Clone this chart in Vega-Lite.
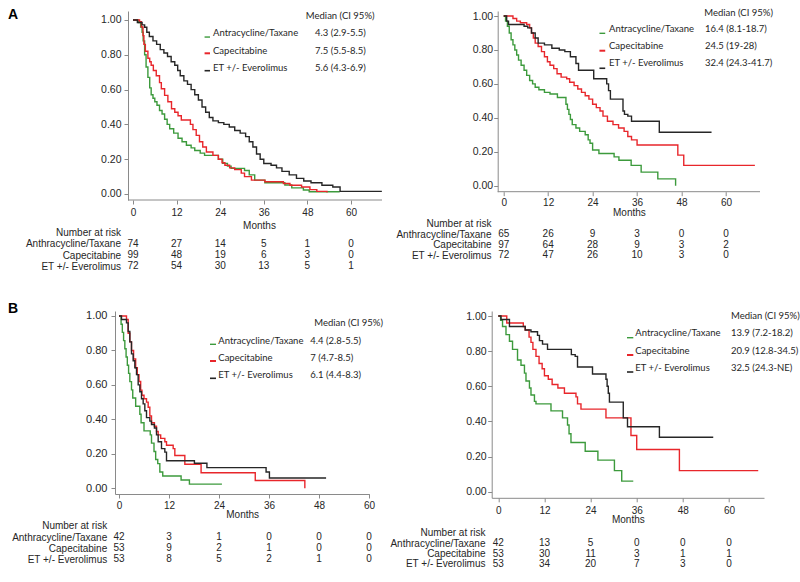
{
  "$schema": "https://vega.github.io/schema/vega-lite/v6.json",
  "background": "white",
  "padding": {"left": 7, "top": 8, "right": 2, "bottom": 2},
  "config": {
    "view": {"stroke": null},
    "axis": {"grid": false, "domainColor": "#8a8a8a", "tickColor": "#8a8a8a", "tickSize": 4, "labelFont": "Liberation Sans", "labelFontSize": 10, "labelColor": "#262626", "titleFont": "Liberation Sans", "titleFontSize": 10, "titleFontWeight": "normal", "titleColor": "#262626", "labelOverlap": false, "labelFlush": false},
    "axisY": {"labelFontSize": 10.5, "tickCount": 10},
    "line": {"strokeWidth": 1.4},
    "text": {"font": "Lato", "fontSize": 9.5, "color": "#262626"}
  },
  "datasets": {
    "km": [
      {"panel":"AL","group":"AT","month":0,"surv":1},{"panel":"AL","group":"AT","month":1.5,"surv":0.985},{"panel":"AL","group":"AT","month":2.1,"surv":0.96},{"panel":"AL","group":"AT","month":2.5,"surv":0.93},{"panel":"AL","group":"AT","month":2.8,"surv":0.88},{"panel":"AL","group":"AT","month":3.2,"surv":0.8},{"panel":"AL","group":"AT","month":3.6,"surv":0.73},{"panel":"AL","group":"AT","month":4.1,"surv":0.67},{"panel":"AL","group":"AT","month":4.6,"surv":0.61},{"panel":"AL","group":"AT","month":5.0,"surv":0.57},{"panel":"AL","group":"AT","month":5.5,"surv":0.55},{"panel":"AL","group":"AT","month":6.0,"surv":0.53},{"panel":"AL","group":"AT","month":6.6,"surv":0.51},{"panel":"AL","group":"AT","month":7.3,"surv":0.48},{"panel":"AL","group":"AT","month":8.0,"surv":0.46},{"panel":"AL","group":"AT","month":8.7,"surv":0.43},{"panel":"AL","group":"AT","month":9.4,"surv":0.4},{"panel":"AL","group":"AT","month":10.1,"surv":0.375},{"panel":"AL","group":"AT","month":11.2,"surv":0.35},{"panel":"AL","group":"AT","month":12.4,"surv":0.32},{"panel":"AL","group":"AT","month":13.5,"surv":0.3},{"panel":"AL","group":"AT","month":14.7,"surv":0.28},{"panel":"AL","group":"AT","month":16,"surv":0.265},{"panel":"AL","group":"AT","month":17,"surv":0.25},{"panel":"AL","group":"AT","month":18.5,"surv":0.235},{"panel":"AL","group":"AT","month":19.7,"surv":0.222},{"panel":"AL","group":"AT","month":23.5,"surv":0.2},{"panel":"AL","group":"AT","month":24.7,"surv":0.176},{"panel":"AL","group":"AT","month":26,"surv":0.16},{"panel":"AL","group":"AT","month":27,"surv":0.147},{"panel":"AL","group":"AT","month":30.7,"surv":0.135},{"panel":"AL","group":"AT","month":32,"surv":0.11},{"panel":"AL","group":"AT","month":33.5,"surv":0.08},{"panel":"AL","group":"AT","month":36.3,"surv":0.065},{"panel":"AL","group":"AT","month":41.8,"surv":0.052},{"panel":"AL","group":"AT","month":43.7,"surv":0.035},{"panel":"AL","group":"AT","month":46.9,"surv":0.023},{"panel":"AL","group":"AT","month":48.5,"surv":0.013},{"panel":"AL","group":"AT","month":56.9,"surv":0.013},
      {"panel":"AL","group":"CAP","month":0,"surv":1},{"panel":"AL","group":"CAP","month":1.8,"surv":0.99},{"panel":"AL","group":"CAP","month":2.3,"surv":0.96},{"panel":"AL","group":"CAP","month":2.75,"surv":0.91},{"panel":"AL","group":"CAP","month":3.0,"surv":0.86},{"panel":"AL","group":"CAP","month":3.4,"surv":0.82},{"panel":"AL","group":"CAP","month":4.1,"surv":0.78},{"panel":"AL","group":"CAP","month":4.6,"surv":0.76},{"panel":"AL","group":"CAP","month":5.0,"surv":0.74},{"panel":"AL","group":"CAP","month":5.6,"surv":0.71},{"panel":"AL","group":"CAP","month":6.4,"surv":0.68},{"panel":"AL","group":"CAP","month":7.3,"surv":0.64},{"panel":"AL","group":"CAP","month":7.8,"surv":0.605},{"panel":"AL","group":"CAP","month":8.7,"surv":0.567},{"panel":"AL","group":"CAP","month":9.6,"surv":0.53},{"panel":"AL","group":"CAP","month":10.6,"surv":0.49},{"panel":"AL","group":"CAP","month":11.5,"surv":0.47},{"panel":"AL","group":"CAP","month":12.4,"surv":0.45},{"panel":"AL","group":"CAP","month":13.3,"surv":0.425},{"panel":"AL","group":"CAP","month":15.8,"surv":0.4},{"panel":"AL","group":"CAP","month":16.5,"surv":0.37},{"panel":"AL","group":"CAP","month":17.4,"surv":0.337},{"panel":"AL","group":"CAP","month":18.3,"surv":0.3},{"panel":"AL","group":"CAP","month":19.2,"surv":0.27},{"panel":"AL","group":"CAP","month":20.2,"surv":0.241},{"panel":"AL","group":"CAP","month":22,"surv":0.222},{"panel":"AL","group":"CAP","month":23.5,"surv":0.2},{"panel":"AL","group":"CAP","month":24.5,"surv":0.18},{"panel":"AL","group":"CAP","month":25.3,"surv":0.165},{"panel":"AL","group":"CAP","month":26.6,"surv":0.15},{"panel":"AL","group":"CAP","month":28,"surv":0.14},{"panel":"AL","group":"CAP","month":29.8,"surv":0.12},{"panel":"AL","group":"CAP","month":30.7,"surv":0.1},{"panel":"AL","group":"CAP","month":32.6,"surv":0.08},{"panel":"AL","group":"CAP","month":36.3,"surv":0.07},{"panel":"AL","group":"CAP","month":41.4,"surv":0.06},{"panel":"AL","group":"CAP","month":43.2,"surv":0.05},{"panel":"AL","group":"CAP","month":46.4,"surv":0.04},{"panel":"AL","group":"CAP","month":48.7,"surv":0.025},{"panel":"AL","group":"CAP","month":50.6,"surv":0.015},{"panel":"AL","group":"CAP","month":53.4,"surv":0.008},
      {"panel":"AL","group":"ET","month":0,"surv":1},{"panel":"AL","group":"ET","month":1.2,"surv":0.986},{"panel":"AL","group":"ET","month":2.5,"surv":0.972},{"panel":"AL","group":"ET","month":3.2,"surv":0.958},{"panel":"AL","group":"ET","month":3.8,"surv":0.93},{"panel":"AL","group":"ET","month":4.5,"surv":0.905},{"panel":"AL","group":"ET","month":5.5,"surv":0.88},{"panel":"AL","group":"ET","month":6.5,"surv":0.86},{"panel":"AL","group":"ET","month":7.5,"surv":0.83},{"panel":"AL","group":"ET","month":8.5,"surv":0.81},{"panel":"AL","group":"ET","month":9.5,"surv":0.79},{"panel":"AL","group":"ET","month":10.5,"surv":0.76},{"panel":"AL","group":"ET","month":11.5,"surv":0.74},{"panel":"AL","group":"ET","month":12.3,"surv":0.71},{"panel":"AL","group":"ET","month":13,"surv":0.68},{"panel":"AL","group":"ET","month":14,"surv":0.65},{"panel":"AL","group":"ET","month":15,"surv":0.63},{"panel":"AL","group":"ET","month":16,"surv":0.6},{"panel":"AL","group":"ET","month":17,"surv":0.57},{"panel":"AL","group":"ET","month":18,"surv":0.54},{"panel":"AL","group":"ET","month":19,"surv":0.5},{"panel":"AL","group":"ET","month":20,"surv":0.47},{"panel":"AL","group":"ET","month":21,"surv":0.44},{"panel":"AL","group":"ET","month":22,"surv":0.42},{"panel":"AL","group":"ET","month":23.5,"surv":0.41},{"panel":"AL","group":"ET","month":25,"surv":0.4},{"panel":"AL","group":"ET","month":26.5,"surv":0.385},{"panel":"AL","group":"ET","month":28,"surv":0.365},{"panel":"AL","group":"ET","month":29.5,"surv":0.35},{"panel":"AL","group":"ET","month":31,"surv":0.33},{"panel":"AL","group":"ET","month":32,"surv":0.3},{"panel":"AL","group":"ET","month":33,"surv":0.27},{"panel":"AL","group":"ET","month":34,"surv":0.23},{"panel":"AL","group":"ET","month":35,"surv":0.2},{"panel":"AL","group":"ET","month":36,"surv":0.175},{"panel":"AL","group":"ET","month":38,"surv":0.165},{"panel":"AL","group":"ET","month":39.5,"surv":0.15},{"panel":"AL","group":"ET","month":41,"surv":0.13},{"panel":"AL","group":"ET","month":43,"surv":0.11},{"panel":"AL","group":"ET","month":45,"surv":0.09},{"panel":"AL","group":"ET","month":47,"surv":0.075},{"panel":"AL","group":"ET","month":49,"surv":0.065},{"panel":"AL","group":"ET","month":52,"surv":0.05},{"panel":"AL","group":"ET","month":55,"surv":0.04},{"panel":"AL","group":"ET","month":57,"surv":0.015},{"panel":"AL","group":"ET","month":68.5,"surv":0.015},

      {"panel":"AR","group":"AT","month":0,"surv":1},{"panel":"AR","group":"AT","month":0.5,"surv":0.97},{"panel":"AR","group":"AT","month":1.0,"surv":0.94},{"panel":"AR","group":"AT","month":1.5,"surv":0.9},{"panel":"AR","group":"AT","month":2.0,"surv":0.86},{"panel":"AR","group":"AT","month":2.5,"surv":0.83},{"panel":"AR","group":"AT","month":3.0,"surv":0.8},{"panel":"AR","group":"AT","month":3.5,"surv":0.77},{"panel":"AR","group":"AT","month":4.0,"surv":0.74},{"panel":"AR","group":"AT","month":4.7,"surv":0.71},{"panel":"AR","group":"AT","month":5.5,"surv":0.68},{"panel":"AR","group":"AT","month":6.2,"surv":0.65},{"panel":"AR","group":"AT","month":7.0,"surv":0.62},{"panel":"AR","group":"AT","month":7.8,"surv":0.6},{"panel":"AR","group":"AT","month":8.5,"surv":0.58},{"panel":"AR","group":"AT","month":9.5,"surv":0.565},{"panel":"AR","group":"AT","month":11,"surv":0.55},{"panel":"AR","group":"AT","month":12.5,"surv":0.54},{"panel":"AR","group":"AT","month":14.5,"surv":0.52},{"panel":"AR","group":"AT","month":16.8,"surv":0.48},{"panel":"AR","group":"AT","month":17.2,"surv":0.45},{"panel":"AR","group":"AT","month":17.6,"surv":0.42},{"panel":"AR","group":"AT","month":18,"surv":0.39},{"panel":"AR","group":"AT","month":18.5,"surv":0.36},{"panel":"AR","group":"AT","month":19.5,"surv":0.34},{"panel":"AR","group":"AT","month":20.5,"surv":0.32},{"panel":"AR","group":"AT","month":22,"surv":0.3},{"panel":"AR","group":"AT","month":22.8,"surv":0.27},{"panel":"AR","group":"AT","month":23.3,"surv":0.25},{"panel":"AR","group":"AT","month":24,"surv":0.21},{"panel":"AR","group":"AT","month":25.7,"surv":0.19},{"panel":"AR","group":"AT","month":29.8,"surv":0.17},{"panel":"AR","group":"AT","month":31.1,"surv":0.15},{"panel":"AR","group":"AT","month":34.4,"surv":0.12},{"panel":"AR","group":"AT","month":37.1,"surv":0.08},{"panel":"AR","group":"AT","month":41.6,"surv":0.04},{"panel":"AR","group":"AT","month":46.4,"surv":0.0},
      {"panel":"AR","group":"CAP","month":0,"surv":1},{"panel":"AR","group":"CAP","month":2.5,"surv":0.985},{"panel":"AR","group":"CAP","month":3.5,"surv":0.97},{"panel":"AR","group":"CAP","month":4.5,"surv":0.96},{"panel":"AR","group":"CAP","month":6.2,"surv":0.95},{"panel":"AR","group":"CAP","month":7,"surv":0.93},{"panel":"AR","group":"CAP","month":7.5,"surv":0.9},{"panel":"AR","group":"CAP","month":8,"surv":0.87},{"panel":"AR","group":"CAP","month":8.5,"surv":0.84},{"panel":"AR","group":"CAP","month":9.3,"surv":0.82},{"panel":"AR","group":"CAP","month":10.2,"surv":0.79},{"panel":"AR","group":"CAP","month":11,"surv":0.76},{"panel":"AR","group":"CAP","month":11.8,"surv":0.73},{"panel":"AR","group":"CAP","month":12.5,"surv":0.71},{"panel":"AR","group":"CAP","month":13.5,"surv":0.69},{"panel":"AR","group":"CAP","month":14.4,"surv":0.66},{"panel":"AR","group":"CAP","month":15.5,"surv":0.64},{"panel":"AR","group":"CAP","month":17,"surv":0.63},{"panel":"AR","group":"CAP","month":17.8,"surv":0.61},{"panel":"AR","group":"CAP","month":19,"surv":0.59},{"panel":"AR","group":"CAP","month":20,"surv":0.57},{"panel":"AR","group":"CAP","month":21,"surv":0.55},{"panel":"AR","group":"CAP","month":22,"surv":0.53},{"panel":"AR","group":"CAP","month":23,"surv":0.51},{"panel":"AR","group":"CAP","month":24,"surv":0.48},{"panel":"AR","group":"CAP","month":25,"surv":0.46},{"panel":"AR","group":"CAP","month":26,"surv":0.44},{"panel":"AR","group":"CAP","month":26.8,"surv":0.41},{"panel":"AR","group":"CAP","month":28,"surv":0.38},{"panel":"AR","group":"CAP","month":29.5,"surv":0.36},{"panel":"AR","group":"CAP","month":31,"surv":0.34},{"panel":"AR","group":"CAP","month":32.5,"surv":0.32},{"panel":"AR","group":"CAP","month":33.5,"surv":0.29},{"panel":"AR","group":"CAP","month":34.5,"surv":0.27},{"panel":"AR","group":"CAP","month":36,"surv":0.24},{"panel":"AR","group":"CAP","month":47,"surv":0.18},{"panel":"AR","group":"CAP","month":48.6,"surv":0.12},{"panel":"AR","group":"CAP","month":67.8,"surv":0.12},
      {"panel":"AR","group":"ET","month":0,"surv":1},{"panel":"AR","group":"ET","month":0.8,"surv":0.97},{"panel":"AR","group":"ET","month":1.3,"surv":0.95},{"panel":"AR","group":"ET","month":5.5,"surv":0.94},{"panel":"AR","group":"ET","month":6.5,"surv":0.93},{"panel":"AR","group":"ET","month":7.5,"surv":0.9},{"panel":"AR","group":"ET","month":8.5,"surv":0.87},{"panel":"AR","group":"ET","month":9.3,"surv":0.84},{"panel":"AR","group":"ET","month":11,"surv":0.83},{"panel":"AR","group":"ET","month":13,"surv":0.81},{"panel":"AR","group":"ET","month":15,"surv":0.8},{"panel":"AR","group":"ET","month":16.5,"surv":0.79},{"panel":"AR","group":"ET","month":18,"surv":0.76},{"panel":"AR","group":"ET","month":19.5,"surv":0.72},{"panel":"AR","group":"ET","month":20.2,"surv":0.68},{"panel":"AR","group":"ET","month":24.3,"surv":0.63},{"panel":"AR","group":"ET","month":27.8,"surv":0.6},{"panel":"AR","group":"ET","month":28.3,"surv":0.56},{"panel":"AR","group":"ET","month":28.8,"surv":0.51},{"panel":"AR","group":"ET","month":32.2,"surv":0.44},{"panel":"AR","group":"ET","month":32.6,"surv":0.42},{"panel":"AR","group":"ET","month":33.5,"surv":0.41},{"panel":"AR","group":"ET","month":34.5,"surv":0.38},{"panel":"AR","group":"ET","month":42,"surv":0.315},{"panel":"AR","group":"ET","month":56.1,"surv":0.315},

      {"panel":"BL","group":"AT","month":0,"surv":1},{"panel":"BL","group":"AT","month":0.5,"surv":0.952},{"panel":"BL","group":"AT","month":0.8,"surv":0.905},{"panel":"BL","group":"AT","month":1.1,"surv":0.857},{"panel":"BL","group":"AT","month":1.4,"surv":0.81},{"panel":"BL","group":"AT","month":1.7,"surv":0.762},{"panel":"BL","group":"AT","month":2.0,"surv":0.714},{"panel":"BL","group":"AT","month":2.3,"surv":0.667},{"panel":"BL","group":"AT","month":2.6,"surv":0.619},{"panel":"BL","group":"AT","month":3.0,"surv":0.571},{"panel":"BL","group":"AT","month":3.3,"surv":0.524},{"panel":"BL","group":"AT","month":4.0,"surv":0.476},{"panel":"BL","group":"AT","month":5.0,"surv":0.43},{"panel":"BL","group":"AT","month":5.3,"surv":0.38},{"panel":"BL","group":"AT","month":6.0,"surv":0.333},{"panel":"BL","group":"AT","month":7.5,"surv":0.31},{"panel":"BL","group":"AT","month":7.8,"surv":0.262},{"panel":"BL","group":"AT","month":8.4,"surv":0.214},{"panel":"BL","group":"AT","month":8.8,"surv":0.167},{"panel":"BL","group":"AT","month":9.3,"surv":0.143},{"panel":"BL","group":"AT","month":9.8,"surv":0.095},{"panel":"BL","group":"AT","month":10.5,"surv":0.071},{"panel":"BL","group":"AT","month":14.9,"surv":0.048},{"panel":"BL","group":"AT","month":16.9,"surv":0.024},{"panel":"BL","group":"AT","month":24.7,"surv":0.024},
      {"panel":"BL","group":"CAP","month":0,"surv":1},{"panel":"BL","group":"CAP","month":1.8,"surv":0.98},{"panel":"BL","group":"CAP","month":2.2,"surv":0.9},{"panel":"BL","group":"CAP","month":2.6,"surv":0.85},{"panel":"BL","group":"CAP","month":3.0,"surv":0.8},{"panel":"BL","group":"CAP","month":3.5,"surv":0.75},{"panel":"BL","group":"CAP","month":4.0,"surv":0.7},{"panel":"BL","group":"CAP","month":4.4,"surv":0.66},{"panel":"BL","group":"CAP","month":4.8,"surv":0.62},{"panel":"BL","group":"CAP","month":5.2,"surv":0.57},{"panel":"BL","group":"CAP","month":5.5,"surv":0.54},{"panel":"BL","group":"CAP","month":6.0,"surv":0.52},{"panel":"BL","group":"CAP","month":6.6,"surv":0.5},{"panel":"BL","group":"CAP","month":7.0,"surv":0.47},{"panel":"BL","group":"CAP","month":7.4,"surv":0.42},{"panel":"BL","group":"CAP","month":7.8,"surv":0.38},{"panel":"BL","group":"CAP","month":8.5,"surv":0.36},{"panel":"BL","group":"CAP","month":9.0,"surv":0.33},{"panel":"BL","group":"CAP","month":9.4,"surv":0.31},{"panel":"BL","group":"CAP","month":10.0,"surv":0.29},{"panel":"BL","group":"CAP","month":11.0,"surv":0.27},{"panel":"BL","group":"CAP","month":11.4,"surv":0.25},{"panel":"BL","group":"CAP","month":13.0,"surv":0.23},{"panel":"BL","group":"CAP","month":13.4,"surv":0.19},{"panel":"BL","group":"CAP","month":15.8,"surv":0.14},{"panel":"BL","group":"CAP","month":19.7,"surv":0.09},{"panel":"BL","group":"CAP","month":32.7,"surv":0.045},{"panel":"BL","group":"CAP","month":44.6,"surv":0.0},
      {"panel":"BL","group":"ET","month":0,"surv":1},{"panel":"BL","group":"ET","month":0.6,"surv":0.98},{"panel":"BL","group":"ET","month":1.8,"surv":0.96},{"panel":"BL","group":"ET","month":2.2,"surv":0.91},{"panel":"BL","group":"ET","month":2.6,"surv":0.85},{"panel":"BL","group":"ET","month":3.0,"surv":0.78},{"panel":"BL","group":"ET","month":3.4,"surv":0.74},{"panel":"BL","group":"ET","month":3.8,"surv":0.7},{"panel":"BL","group":"ET","month":4.2,"surv":0.66},{"panel":"BL","group":"ET","month":4.6,"surv":0.6},{"panel":"BL","group":"ET","month":5.0,"surv":0.56},{"panel":"BL","group":"ET","month":5.4,"surv":0.52},{"panel":"BL","group":"ET","month":5.8,"surv":0.49},{"panel":"BL","group":"ET","month":6.2,"surv":0.45},{"panel":"BL","group":"ET","month":6.6,"surv":0.41},{"panel":"BL","group":"ET","month":7.4,"surv":0.39},{"panel":"BL","group":"ET","month":7.8,"surv":0.37},{"panel":"BL","group":"ET","month":8.5,"surv":0.35},{"panel":"BL","group":"ET","month":9.0,"surv":0.31},{"panel":"BL","group":"ET","month":9.4,"surv":0.27},{"panel":"BL","group":"ET","month":10.2,"surv":0.23},{"panel":"BL","group":"ET","month":11.0,"surv":0.21},{"panel":"BL","group":"ET","month":11.4,"surv":0.16},{"panel":"BL","group":"ET","month":18.1,"surv":0.145},{"panel":"BL","group":"ET","month":21.1,"surv":0.12},{"panel":"BL","group":"ET","month":35.3,"surv":0.095},{"panel":"BL","group":"ET","month":36.1,"surv":0.06},{"panel":"BL","group":"ET","month":49.7,"surv":0.06},

      {"panel":"BR","group":"AT","month":0,"surv":1},{"panel":"BR","group":"AT","month":0.6,"surv":0.976},{"panel":"BR","group":"AT","month":1.1,"surv":0.94},{"panel":"BR","group":"AT","month":2.0,"surv":0.894},{"panel":"BR","group":"AT","month":2.9,"surv":0.856},{"panel":"BR","group":"AT","month":3.7,"surv":0.81},{"panel":"BR","group":"AT","month":5.0,"surv":0.75},{"panel":"BR","group":"AT","month":5.9,"surv":0.72},{"panel":"BR","group":"AT","month":6.8,"surv":0.675},{"panel":"BR","group":"AT","month":7.2,"surv":0.63},{"panel":"BR","group":"AT","month":8.1,"surv":0.59},{"panel":"BR","group":"AT","month":8.5,"surv":0.55},{"panel":"BR","group":"AT","month":9.4,"surv":0.514},{"panel":"BR","group":"AT","month":9.8,"surv":0.5},{"panel":"BR","group":"AT","month":13.7,"surv":0.46},{"panel":"BR","group":"AT","month":16.7,"surv":0.42},{"panel":"BR","group":"AT","month":18.0,"surv":0.38},{"panel":"BR","group":"AT","month":18.4,"surv":0.33},{"panel":"BR","group":"AT","month":18.9,"surv":0.28},{"panel":"BR","group":"AT","month":22.6,"surv":0.23},{"panel":"BR","group":"AT","month":25.9,"surv":0.18},{"panel":"BR","group":"AT","month":30.2,"surv":0.12},{"panel":"BR","group":"AT","month":32.1,"surv":0.06},{"panel":"BR","group":"AT","month":35.1,"surv":0.06},
      {"panel":"BR","group":"CAP","month":0,"surv":1},{"panel":"BR","group":"CAP","month":2.2,"surv":0.96},{"panel":"BR","group":"CAP","month":6.5,"surv":0.94},{"panel":"BR","group":"CAP","month":7.0,"surv":0.92},{"panel":"BR","group":"CAP","month":8.0,"surv":0.88},{"panel":"BR","group":"CAP","month":8.5,"surv":0.85},{"panel":"BR","group":"CAP","month":9.0,"surv":0.81},{"panel":"BR","group":"CAP","month":9.8,"surv":0.77},{"panel":"BR","group":"CAP","month":10.6,"surv":0.73},{"panel":"BR","group":"CAP","month":11.4,"surv":0.7},{"panel":"BR","group":"CAP","month":12,"surv":0.66},{"panel":"BR","group":"CAP","month":13,"surv":0.64},{"panel":"BR","group":"CAP","month":14,"surv":0.61},{"panel":"BR","group":"CAP","month":15.5,"surv":0.59},{"panel":"BR","group":"CAP","month":17.2,"surv":0.56},{"panel":"BR","group":"CAP","month":20.2,"surv":0.54},{"panel":"BR","group":"CAP","month":20.6,"surv":0.5},{"panel":"BR","group":"CAP","month":21.5,"surv":0.47},{"panel":"BR","group":"CAP","month":28,"surv":0.42},{"panel":"BR","group":"CAP","month":34.5,"surv":0.32},{"panel":"BR","group":"CAP","month":36,"surv":0.24},{"panel":"BR","group":"CAP","month":47.1,"surv":0.12},{"panel":"BR","group":"CAP","month":67.6,"surv":0.12},
      {"panel":"BR","group":"ET","month":0,"surv":1},{"panel":"BR","group":"ET","month":0.7,"surv":0.98},{"panel":"BR","group":"ET","month":2.9,"surv":0.94},{"panel":"BR","group":"ET","month":7.0,"surv":0.92},{"panel":"BR","group":"ET","month":8.5,"surv":0.91},{"panel":"BR","group":"ET","month":10.2,"surv":0.89},{"panel":"BR","group":"ET","month":10.7,"surv":0.86},{"panel":"BR","group":"ET","month":11.5,"surv":0.84},{"panel":"BR","group":"ET","month":12.8,"surv":0.81},{"panel":"BR","group":"ET","month":19.0,"surv":0.78},{"panel":"BR","group":"ET","month":20.0,"surv":0.77},{"panel":"BR","group":"ET","month":20.6,"surv":0.71},{"panel":"BR","group":"ET","month":24.5,"surv":0.67},{"panel":"BR","group":"ET","month":28.0,"surv":0.64},{"panel":"BR","group":"ET","month":28.3,"surv":0.6},{"panel":"BR","group":"ET","month":28.6,"surv":0.56},{"panel":"BR","group":"ET","month":28.9,"surv":0.51},{"panel":"BR","group":"ET","month":32.5,"surv":0.42},{"panel":"BR","group":"ET","month":33.6,"surv":0.37},{"panel":"BR","group":"ET","month":41.9,"surv":0.31},{"panel":"BR","group":"ET","month":55.9,"surv":0.31}
    ],
    "risk": [
      {"panel":"AL","group":"Anthracycline/Taxane","month":0,"n":74},{"panel":"AL","group":"Anthracycline/Taxane","month":12,"n":27},{"panel":"AL","group":"Anthracycline/Taxane","month":24,"n":14},{"panel":"AL","group":"Anthracycline/Taxane","month":36,"n":5},{"panel":"AL","group":"Anthracycline/Taxane","month":48,"n":1},{"panel":"AL","group":"Anthracycline/Taxane","month":60,"n":0},
      {"panel":"AL","group":"Capecitabine","month":0,"n":99},{"panel":"AL","group":"Capecitabine","month":12,"n":48},{"panel":"AL","group":"Capecitabine","month":24,"n":19},{"panel":"AL","group":"Capecitabine","month":36,"n":6},{"panel":"AL","group":"Capecitabine","month":48,"n":3},{"panel":"AL","group":"Capecitabine","month":60,"n":0},
      {"panel":"AL","group":"ET +/- Everolimus","month":0,"n":72},{"panel":"AL","group":"ET +/- Everolimus","month":12,"n":54},{"panel":"AL","group":"ET +/- Everolimus","month":24,"n":30},{"panel":"AL","group":"ET +/- Everolimus","month":36,"n":13},{"panel":"AL","group":"ET +/- Everolimus","month":48,"n":5},{"panel":"AL","group":"ET +/- Everolimus","month":60,"n":1},
      {"panel":"AR","group":"Anthracycline/Taxane","month":0,"n":65},{"panel":"AR","group":"Anthracycline/Taxane","month":12,"n":26},{"panel":"AR","group":"Anthracycline/Taxane","month":24,"n":9},{"panel":"AR","group":"Anthracycline/Taxane","month":36,"n":3},{"panel":"AR","group":"Anthracycline/Taxane","month":48,"n":0},{"panel":"AR","group":"Anthracycline/Taxane","month":60,"n":0},
      {"panel":"AR","group":"Capecitabine","month":0,"n":97},{"panel":"AR","group":"Capecitabine","month":12,"n":64},{"panel":"AR","group":"Capecitabine","month":24,"n":28},{"panel":"AR","group":"Capecitabine","month":36,"n":9},{"panel":"AR","group":"Capecitabine","month":48,"n":3},{"panel":"AR","group":"Capecitabine","month":60,"n":2},
      {"panel":"AR","group":"ET +/- Everolimus","month":0,"n":72},{"panel":"AR","group":"ET +/- Everolimus","month":12,"n":47},{"panel":"AR","group":"ET +/- Everolimus","month":24,"n":26},{"panel":"AR","group":"ET +/- Everolimus","month":36,"n":10},{"panel":"AR","group":"ET +/- Everolimus","month":48,"n":3},{"panel":"AR","group":"ET +/- Everolimus","month":60,"n":0},
      {"panel":"BL","group":"Anthracycline/Taxane","month":0,"n":42},{"panel":"BL","group":"Anthracycline/Taxane","month":12,"n":3},{"panel":"BL","group":"Anthracycline/Taxane","month":24,"n":1},{"panel":"BL","group":"Anthracycline/Taxane","month":36,"n":0},{"panel":"BL","group":"Anthracycline/Taxane","month":48,"n":0},{"panel":"BL","group":"Anthracycline/Taxane","month":60,"n":0},
      {"panel":"BL","group":"Capecitabine","month":0,"n":53},{"panel":"BL","group":"Capecitabine","month":12,"n":9},{"panel":"BL","group":"Capecitabine","month":24,"n":2},{"panel":"BL","group":"Capecitabine","month":36,"n":1},{"panel":"BL","group":"Capecitabine","month":48,"n":0},{"panel":"BL","group":"Capecitabine","month":60,"n":0},
      {"panel":"BL","group":"ET +/- Everolimus","month":0,"n":53},{"panel":"BL","group":"ET +/- Everolimus","month":12,"n":8},{"panel":"BL","group":"ET +/- Everolimus","month":24,"n":5},{"panel":"BL","group":"ET +/- Everolimus","month":36,"n":2},{"panel":"BL","group":"ET +/- Everolimus","month":48,"n":1},{"panel":"BL","group":"ET +/- Everolimus","month":60,"n":0},
      {"panel":"BR","group":"Anthracycline/Taxane","month":0,"n":42},{"panel":"BR","group":"Anthracycline/Taxane","month":12,"n":13},{"panel":"BR","group":"Anthracycline/Taxane","month":24,"n":5},{"panel":"BR","group":"Anthracycline/Taxane","month":36,"n":0},{"panel":"BR","group":"Anthracycline/Taxane","month":48,"n":0},{"panel":"BR","group":"Anthracycline/Taxane","month":60,"n":0},
      {"panel":"BR","group":"Capecitabine","month":0,"n":53},{"panel":"BR","group":"Capecitabine","month":12,"n":30},{"panel":"BR","group":"Capecitabine","month":24,"n":11},{"panel":"BR","group":"Capecitabine","month":36,"n":3},{"panel":"BR","group":"Capecitabine","month":48,"n":1},{"panel":"BR","group":"Capecitabine","month":60,"n":1},
      {"panel":"BR","group":"ET +/- Everolimus","month":0,"n":53},{"panel":"BR","group":"ET +/- Everolimus","month":12,"n":34},{"panel":"BR","group":"ET +/- Everolimus","month":24,"n":20},{"panel":"BR","group":"ET +/- Everolimus","month":36,"n":7},{"panel":"BR","group":"ET +/- Everolimus","month":48,"n":3},{"panel":"BR","group":"ET +/- Everolimus","month":60,"n":0}
    ]
  },
  "columns": 2,
  "bounds": "flush",
  "align": "each",
  "spacing": {"row": 16, "column": 109.7},
  "concat": [
    {
      "width": 267, "height": 189,
      "layer": [
        {
          "data": {"name": "km"},
          "transform": [{"filter": "datum.panel === 'AL'"}],
          "mark": {"type": "line", "interpolate": "step-after", "clip": true},
          "encoding": {
            "x": {"field": "month", "type": "quantitative", "scale": {"domain": [-4.955, 68.54], "nice": false, "zero": false}, "axis": {"values": [0, 12, 24, 36, 48, 60], "title": "Months", "domain": false, "labelPadding": 3.6, "titlePadding": 3, "titleX": 144}},
            "y": {"field": "surv", "type": "quantitative", "scale": {"domain": [-0.0345, 1.0517], "nice": false, "zero": false}, "axis": {"values": [0, 0.2, 0.4, 0.6, 0.8, 1], "tickCount": 10, "format": ".2f", "title": null, "offset": -13, "labelPadding": 3, "labelOverlap": false}},
            "color": {"field": "group", "type": "nominal", "scale": {"domain": ["AT", "CAP", "ET"], "range": ["#3c9a3c", "#e8262b", "#262626"]}, "legend": null}
          }
        },
        {"data": {"values": [{}]}, "mark": {"type": "text", "align": "left", "baseline": "alphabetic", "font": "Liberation Sans", "fontSize": 14, "fontWeight": "bold", "color": "#000000"}, "encoding": {"x": {"datum": -34.41}, "y": {"datum": 1.0057}, "text": {"value": "A"}}},
        {"data": {"values": [{}]}, "mark": {"type": "rule", "color": "#8a8a8a", "strokeWidth": 1}, "encoding": {"x": {"datum": -1.376}, "x2": {"datum": 68.54}, "y": {"datum": -0.0345}}},
        {"data": {"values": [{}]}, "mark": {"type": "text", "align": "center", "baseline": "middle"}, "encoding": {"x": {"datum": 57.03}, "y": {"datum": 1.023}, "text": {"value": "Median (CI 95%)"}}},
        {"data": {"values": [{}]}, "mark": {"type": "text", "align": "left", "baseline": "middle"}, "encoding": {"x": {"datum": 22.02}, "y": {"datum": 0.9236}, "text": {"value": "Antracycline/Taxane"}}},
        {"data": {"values": [{}]}, "mark": {"type": "text", "align": "left", "baseline": "middle"}, "encoding": {"x": {"datum": 22.02}, "y": {"datum": 0.8236}, "text": {"value": "Capecitabine"}}},
        {"data": {"values": [{}]}, "mark": {"type": "text", "align": "left", "baseline": "middle"}, "encoding": {"x": {"datum": 22.02}, "y": {"datum": 0.7259}, "text": {"value": "ET +/- Everolimus"}}},
        {"data": {"values": [{}]}, "mark": {"type": "text", "align": "center", "baseline": "middle"}, "encoding": {"x": {"datum": 57.1}, "y": {"datum": 0.9236}, "text": {"value": "4.3 (2.9-5.5)"}}},
        {"data": {"values": [{}]}, "mark": {"type": "text", "align": "center", "baseline": "middle"}, "encoding": {"x": {"datum": 57.1}, "y": {"datum": 0.8236}, "text": {"value": "7.5 (5.5-8.5)"}}},
        {"data": {"values": [{}]}, "mark": {"type": "text", "align": "center", "baseline": "middle"}, "encoding": {"x": {"datum": 57.1}, "y": {"datum": 0.7259}, "text": {"value": "5.6 (4.3-6.9)"}}},
        {"data": {"values": [{}]}, "mark": {"type": "rule", "color": "#3c9a3c", "strokeWidth": 1.4}, "encoding": {"x": {"datum": 19.7}, "x2": {"datum": 21.2}, "y": {"datum": 0.902}}},
        {"data": {"values": [{}]}, "mark": {"type": "rule", "color": "#e8262b", "strokeWidth": 2}, "encoding": {"x": {"datum": 19.7}, "x2": {"datum": 21.2}, "y": {"datum": 0.8086}}},
        {"data": {"values": [{}]}, "mark": {"type": "rule", "color": "#262626", "strokeWidth": 1.6}, "encoding": {"x": {"datum": 19.7}, "x2": {"datum": 21.2}, "y": {"datum": 0.7086}}}
      ]
    },
    {
      "width": 268.3, "height": 180.7,
      "layer": [
        {
          "data": {"name": "km"},
          "transform": [{"filter": "datum.panel === 'AR'"}],
          "mark": {"type": "line", "interpolate": "step-after", "clip": true},
          "encoding": {
            "x": {"field": "month", "type": "quantitative", "scale": {"domain": [-3.239, 69.18], "nice": false, "zero": false}, "axis": {"values": [0, 12, 24, 36, 48, 60], "title": "Months", "domain": false, "labelPadding": 1.6, "titlePadding": 0, "titleX": 137.2}},
            "y": {"field": "surv", "type": "quantitative", "scale": {"domain": [-0.0354, 1.0295], "nice": false, "zero": false}, "axis": {"values": [0, 0.2, 0.4, 0.6, 0.8, 1], "tickCount": 10, "format": ".2f", "title": null, "offset": -6, "labelPadding": 1, "labelOverlap": false}},
            "color": {"field": "group", "type": "nominal", "scale": {"domain": ["AT", "CAP", "ET"], "range": ["#3c9a3c", "#e8262b", "#262626"]}, "legend": null}
          }
        },
        {"data": {"values": [{}]}, "mark": {"type": "rule", "color": "#8a8a8a", "strokeWidth": 1}, "encoding": {"x": {"datum": -1.619}, "x2": {"datum": 69.18}, "y": {"datum": -0.0354}}},
        {"data": {"values": [{}]}, "mark": {"type": "text", "align": "left", "baseline": "middle"}, "encoding": {"x": {"datum": 54.14}, "y": {"datum": 1.016}, "text": {"value": "Median (CI 95%)"}}},
        {"data": {"values": [{}]}, "mark": {"type": "text", "align": "left", "baseline": "middle"}, "encoding": {"x": {"datum": 28.42}, "y": {"datum": 0.9216}, "text": {"value": "Antracycline/Taxane"}}},
        {"data": {"values": [{}]}, "mark": {"type": "text", "align": "left", "baseline": "middle"}, "encoding": {"x": {"datum": 28.42}, "y": {"datum": 0.8232}, "text": {"value": "Capecitabine"}}},
        {"data": {"values": [{}]}, "mark": {"type": "text", "align": "left", "baseline": "middle"}, "encoding": {"x": {"datum": 28.42}, "y": {"datum": 0.723}, "text": {"value": "ET +/- Everolimus"}}},
        {"data": {"values": [{}]}, "mark": {"type": "text", "align": "left", "baseline": "middle"}, "encoding": {"x": {"datum": 54.33}, "y": {"datum": 0.9216}, "text": {"value": "16.4 (8.1-18.7)"}}},
        {"data": {"values": [{}]}, "mark": {"type": "text", "align": "left", "baseline": "middle"}, "encoding": {"x": {"datum": 54.33}, "y": {"datum": 0.8232}, "text": {"value": "24.5 (19-28)"}}},
        {"data": {"values": [{}]}, "mark": {"type": "text", "align": "left", "baseline": "middle"}, "encoding": {"x": {"datum": 54.33}, "y": {"datum": 0.723}, "text": {"value": "32.4 (24.3-41.7)"}}},
        {"data": {"values": [{}]}, "mark": {"type": "rule", "color": "#3c9a3c", "strokeWidth": 1.4}, "encoding": {"x": {"datum": 25.85}, "x2": {"datum": 27.4}, "y": {"datum": 0.898}}},
        {"data": {"values": [{}]}, "mark": {"type": "rule", "color": "#e8262b", "strokeWidth": 2}, "encoding": {"x": {"datum": 25.85}, "x2": {"datum": 27.4}, "y": {"datum": 0.7955}}},
        {"data": {"values": [{}]}, "mark": {"type": "rule", "color": "#262626", "strokeWidth": 1.6}, "encoding": {"x": {"datum": 25.85}, "x2": {"datum": 27.4}, "y": {"datum": 0.692}}}
      ]
    },
    {
      "width": 267, "height": 79,
      "data": {"name": "risk"},
      "transform": [{"filter": "datum.panel === 'AL'"}],
      "mark": {"type": "text", "font": "Liberation Sans", "fontSize": 10, "baseline": "middle"},
      "encoding": {
        "x": {"field": "month", "type": "quantitative", "scale": {"domain": [-4.955, 68.54], "nice": false, "zero": false}, "axis": null},
        "y": {"field": "group", "type": "ordinal", "scale": {"type": "point", "padding": 0.59, "align": 0.4615, "domain": [" ", "Number at risk", "Anthracycline/Taxane", "Capecitabine", "ET +/- Everolimus", "  ", "   "]}, "axis": {"domain": false, "ticks": false, "tickSize": 0, "labelPadding": 7.5, "offset": -13, "title": null, "labelFontSize": 10, "labelOverlap": false}},
        "text": {"field": "n", "type": "quantitative"}
      }
    },
    {
      "width": 268.3, "height": 52.15,
      "data": {"name": "risk"},
      "transform": [{"filter": "datum.panel === 'AR'"}],
      "mark": {"type": "text", "font": "Liberation Sans", "fontSize": 10, "baseline": "middle"},
      "encoding": {
        "x": {"field": "month", "type": "quantitative", "scale": {"domain": [-3.239, 69.18], "nice": false, "zero": false}, "axis": null},
        "y": {"field": "group", "type": "ordinal", "scale": {"type": "point", "padding": 1, "align": 0.3835, "domain": ["Number at risk", "Anthracycline/Taxane", "Capecitabine", "ET +/- Everolimus"]}, "axis": {"domain": false, "ticks": false, "tickSize": 0, "labelPadding": 6.7, "offset": -6, "title": null, "labelFontSize": 10, "labelOverlap": false}},
        "text": {"field": "n", "type": "quantitative"}
      }
    },
    {
      "width": 254.3, "height": 183,
      "layer": [
        {
          "data": {"name": "km"},
          "transform": [{"filter": "datum.panel === 'BL'"}],
          "mark": {"type": "line", "interpolate": "step-after", "clip": true},
          "encoding": {
            "x": {"field": "month", "type": "quantitative", "scale": {"domain": [-0.96, 60.07], "nice": false, "zero": false}, "axis": {"values": [0, 12, 24, 36, 48, 60], "title": "Months", "labelPadding": 2.6, "titlePadding": -0.7}},
            "y": {"field": "surv", "type": "quantitative", "scale": {"domain": [-0.0331, 1.029], "nice": false, "zero": false}, "axis": {"values": [0, 0.2, 0.4, 0.6, 0.8, 1], "tickCount": 10, "format": ".2f", "title": null, "labelPadding": 4, "labelFontSize": 11, "labelOverlap": false}},
            "color": {"field": "group", "type": "nominal", "scale": {"domain": ["AT", "CAP", "ET"], "range": ["#3c9a3c", "#e8262b", "#262626"]}, "legend": null}
          }
        },
        {"data": {"values": [{}]}, "mark": {"type": "text", "align": "left", "baseline": "alphabetic", "font": "Liberation Sans", "fontSize": 14, "fontWeight": "bold", "color": "#000000"}, "encoding": {"x": {"datum": -26.64}, "y": {"datum": 1.0157}, "text": {"value": "B"}}},
        {"data": {"values": [{}]}, "mark": {"type": "text", "align": "left", "baseline": "middle"}, "encoding": {"x": {"datum": 46.87}, "y": {"datum": 0.9576}, "text": {"value": "Median (CI 95%)"}}},
        {"data": {"values": [{}]}, "mark": {"type": "text", "align": "left", "baseline": "middle"}, "encoding": {"x": {"datum": 23.83}, "y": {"datum": 0.8549}, "text": {"value": "Antracycline/Taxane"}}},
        {"data": {"values": [{}]}, "mark": {"type": "text", "align": "left", "baseline": "middle"}, "encoding": {"x": {"datum": 23.83}, "y": {"datum": 0.758}, "text": {"value": "Capecitabine"}}},
        {"data": {"values": [{}]}, "mark": {"type": "text", "align": "left", "baseline": "middle"}, "encoding": {"x": {"datum": 23.83}, "y": {"datum": 0.6593}, "text": {"value": "ET +/- Everolimus"}}},
        {"data": {"values": [{}]}, "mark": {"type": "text", "align": "left", "baseline": "middle"}, "encoding": {"x": {"datum": 45.91}, "y": {"datum": 0.8549}, "text": {"value": "4.4 (2.8-5.5)"}}},
        {"data": {"values": [{}]}, "mark": {"type": "text", "align": "left", "baseline": "middle"}, "encoding": {"x": {"datum": 45.91}, "y": {"datum": 0.758}, "text": {"value": "7 (4.7-8.5)"}}},
        {"data": {"values": [{}]}, "mark": {"type": "text", "align": "left", "baseline": "middle"}, "encoding": {"x": {"datum": 45.91}, "y": {"datum": 0.6593}, "text": {"value": "6.1 (4.4-8.3)"}}},
        {"data": {"values": [{}]}, "mark": {"type": "rule", "color": "#3c9a3c", "strokeWidth": 1.4}, "encoding": {"x": {"datum": 21.84}, "x2": {"datum": 23.28}, "y": {"datum": 0.8357}}},
        {"data": {"values": [{}]}, "mark": {"type": "rule", "color": "#e8262b", "strokeWidth": 2}, "encoding": {"x": {"datum": 21.84}, "x2": {"datum": 23.28}, "y": {"datum": 0.7388}}},
        {"data": {"values": [{}]}, "mark": {"type": "rule", "color": "#262626", "strokeWidth": 1.6}, "encoding": {"x": {"datum": 21.84}, "x2": {"datum": 23.28}, "y": {"datum": 0.6384}}}
      ]
    },
    {
      "width": 272.3, "height": 186.8,
      "layer": [
        {
          "data": {"name": "km"},
          "transform": [{"filter": "datum.panel === 'BR'"}],
          "mark": {"type": "line", "interpolate": "step-after", "clip": true},
          "encoding": {
            "x": {"field": "month", "type": "quantitative", "scale": {"domain": [-1.717, 69.1], "nice": false, "zero": false}, "axis": {"values": [0, 12, 24, 36, 48, 60], "title": "Months", "labelPadding": 3.8, "titlePadding": -0.7}},
            "y": {"field": "surv", "type": "quantitative", "scale": {"domain": [-0.0347, 1.0285], "nice": false, "zero": false}, "axis": {"values": [0, 0.2, 0.4, 0.6, 0.8, 1], "tickCount": 10, "format": ".2f", "title": null, "labelPadding": 1.5, "labelOverlap": false}},
            "color": {"field": "group", "type": "nominal", "scale": {"domain": ["AT", "CAP", "ET"], "range": ["#3c9a3c", "#e8262b", "#262626"]}, "legend": null}
          }
        },
        {"data": {"values": [{}]}, "mark": {"type": "text", "align": "left", "baseline": "middle"}, "encoding": {"x": {"datum": 60.52}, "y": {"datum": 1.0}, "text": {"value": "Median (CI 95%)"}}},
        {"data": {"values": [{}]}, "mark": {"type": "text", "align": "left", "baseline": "middle"}, "encoding": {"x": {"datum": 35.63}, "y": {"datum": 0.9015}, "text": {"value": "Antracycline/Taxane"}}},
        {"data": {"values": [{}]}, "mark": {"type": "text", "align": "left", "baseline": "middle"}, "encoding": {"x": {"datum": 35.63}, "y": {"datum": 0.8008}, "text": {"value": "Capecitabine"}}},
        {"data": {"values": [{}]}, "mark": {"type": "text", "align": "left", "baseline": "middle"}, "encoding": {"x": {"datum": 35.63}, "y": {"datum": 0.7023}, "text": {"value": "ET +/- Everolimus"}}},
        {"data": {"values": [{}]}, "mark": {"type": "text", "align": "left", "baseline": "middle"}, "encoding": {"x": {"datum": 60.52}, "y": {"datum": 0.9015}, "text": {"value": "13.9 (7.2-18.2)"}}},
        {"data": {"values": [{}]}, "mark": {"type": "text", "align": "left", "baseline": "middle"}, "encoding": {"x": {"datum": 60.52}, "y": {"datum": 0.8008}, "text": {"value": "20.9 (12.8-34.5)"}}},
        {"data": {"values": [{}]}, "mark": {"type": "text", "align": "left", "baseline": "middle"}, "encoding": {"x": {"datum": 60.52}, "y": {"datum": 0.7023}, "text": {"value": "32.5 (24.3-NE)"}}},
        {"data": {"values": [{}]}, "mark": {"type": "rule", "color": "#3c9a3c", "strokeWidth": 1.4}, "encoding": {"x": {"datum": 33.47}, "x2": {"datum": 35.11}, "y": {"datum": 0.8765}}},
        {"data": {"values": [{}]}, "mark": {"type": "rule", "color": "#e8262b", "strokeWidth": 2}, "encoding": {"x": {"datum": 33.47}, "x2": {"datum": 35.11}, "y": {"datum": 0.778}}},
        {"data": {"values": [{}]}, "mark": {"type": "rule", "color": "#262626", "strokeWidth": 1.6}, "encoding": {"x": {"datum": 33.47}, "x2": {"datum": 35.11}, "y": {"datum": 0.6813}}}
      ]
    },
    {
      "width": 254.3, "height": 55.5,
      "data": {"name": "risk"},
      "transform": [{"filter": "datum.panel === 'BL'"}],
      "mark": {"type": "text", "font": "Liberation Sans", "fontSize": 10, "baseline": "middle"},
      "encoding": {
        "x": {"field": "month", "type": "quantitative", "scale": {"domain": [-0.96, 60.07], "nice": false, "zero": false}, "axis": null},
        "y": {"field": "group", "type": "ordinal", "scale": {"type": "point", "padding": 1, "align": 0.5405, "domain": ["Number at risk", "Anthracycline/Taxane", "Capecitabine", "ET +/- Everolimus"]}, "axis": {"domain": false, "ticks": false, "tickSize": 0, "labelPadding": 8.3, "title": null, "labelFontSize": 10, "labelOverlap": false}},
        "text": {"field": "n", "type": "quantitative"}
      }
    },
    {
      "width": 272.3, "height": 52.15,
      "data": {"name": "risk"},
      "transform": [{"filter": "datum.panel === 'BR'"}],
      "mark": {"type": "text", "font": "Liberation Sans", "fontSize": 10, "baseline": "middle"},
      "encoding": {
        "x": {"field": "month", "type": "quantitative", "scale": {"domain": [-1.717, 69.1], "nice": false, "zero": false}, "axis": null},
        "y": {"field": "group", "type": "ordinal", "scale": {"type": "point", "padding": 1, "align": 0.8965, "domain": ["Number at risk", "Anthracycline/Taxane", "Capecitabine", "ET +/- Everolimus"]}, "axis": {"domain": false, "ticks": false, "tickSize": 0, "labelPadding": 6.7, "title": null, "labelFontSize": 10, "labelOverlap": false}},
        "text": {"field": "n", "type": "quantitative"}
      }
    }
  ]
}
